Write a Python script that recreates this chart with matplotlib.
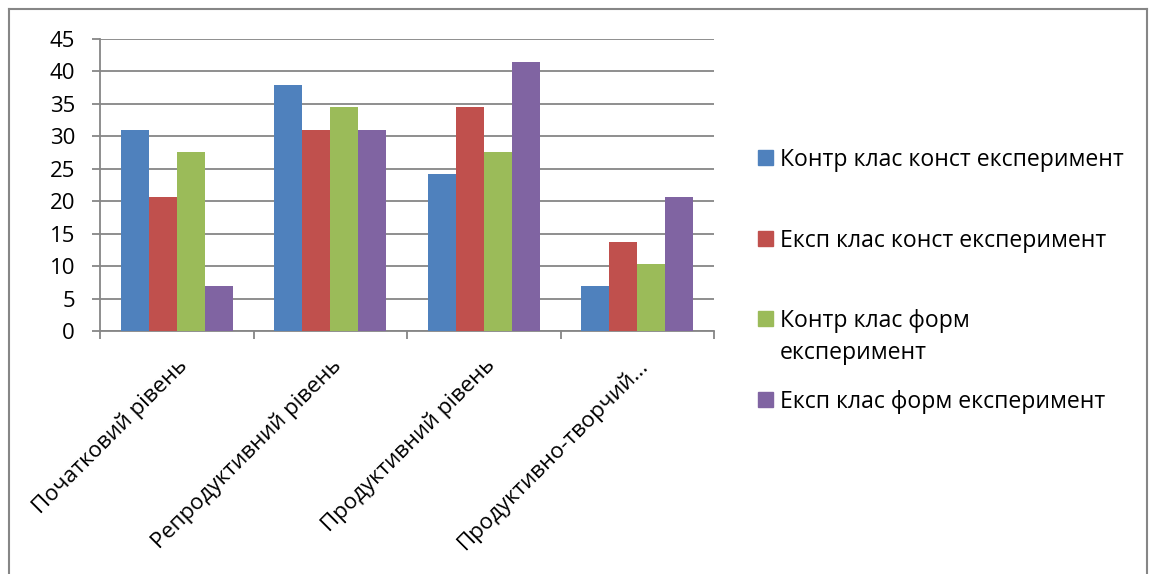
import matplotlib.pyplot as plt
import numpy as np
from matplotlib.patches import Rectangle
from matplotlib.lines import Line2D

plt.rcParams['font.family'] = ['Open Sans', 'DejaVu Sans']

categories = ['Початковий рівень', 'Репродуктивний рівень', 'Продуктивний рівень', 'Продуктивно-творчий...']
series_names = ['Контр клас конст експеримент', 'Експ клас конст експеримент',
                'Контр клас форм\nексперимент', 'Експ клас форм експеримент']
kontr_konst = [31.03, 37.93, 24.14, 6.90]
eksp_konst = [20.69, 31.03, 34.48, 13.79]
kontr_form = [27.59, 34.48, 27.59, 10.34]
eksp_form = [6.90, 31.03, 41.38, 20.69]
yticks = [0, 5, 10, 15, 20, 25, 30, 35, 40, 45]

colors = ['#4F81BD', '#C0504D', '#9BBB59', '#8064A2']
grey = '#868686'
fs = 16

fig = plt.figure(figsize=(11.5, 5.74), dpi=100)
W, H = 1150, 574
ax = fig.add_axes([100 / W, 1 - 331 / H, 614 / W, 292 / H])

x = np.arange(len(categories))
bw = 1 / 5.5
for i, vals in enumerate([kontr_konst, eksp_konst, kontr_form, eksp_form]):
    ax.bar(x + (i - 1.5) * bw, vals, bw, color=colors[i], zorder=3)

ax.set_xlim(-0.5, len(categories) - 0.5)
ax.set_ylim(0, 45)
ax.set_yticks(yticks)
ax.yaxis.grid(True, color=grey, lw=1.3, zorder=0)
ax.tick_params(axis='y', length=6, width=1.3, color=grey, pad=12, labelsize=fs)

# category labels at group centres, tick marks between groups
ax.set_xticks(x)
ax.set_xticklabels(categories, rotation=45, ha='right', va='top',
                   rotation_mode='anchor', fontsize=fs)
ax.tick_params(axis='x', which='major', length=0, pad=17)
ax.set_xticks(np.arange(len(categories) + 1) - 0.5, minor=True)
ax.tick_params(axis='x', which='minor', length=6, width=1.3, color=grey)

for s in ['top', 'right']:
    ax.spines[s].set_visible(False)
for s in ['left', 'bottom']:
    ax.spines[s].set_color(grey)
    ax.spines[s].set_linewidth(1.3)

# legend
leg_y = [157, 238, 318, 399]
for i, name in enumerate(series_names):
    fig.patches.append(Rectangle((758 / W, 1 - (leg_y[i] + 7.5) / H), 15 / W, 15 / H,
                                 transform=fig.transFigure, color=colors[i]))
    for k, line in enumerate(name.split('\n')):
        fig.text(780 / W, 1 - (leg_y[i] + 32 * k) / H, line, fontsize=16.6,
                 va='center_baseline')

# outer frame
for xs, ys in [([9, 9], [9, 574]), ([9, 1147], [9, 9]), ([1147, 1147], [9, 574])]:
    fig.add_artist(Line2D([v / W for v in xs], [1 - v / H for v in ys], color=grey, lw=1.5))

fig.savefig('out.png', dpi=100)
